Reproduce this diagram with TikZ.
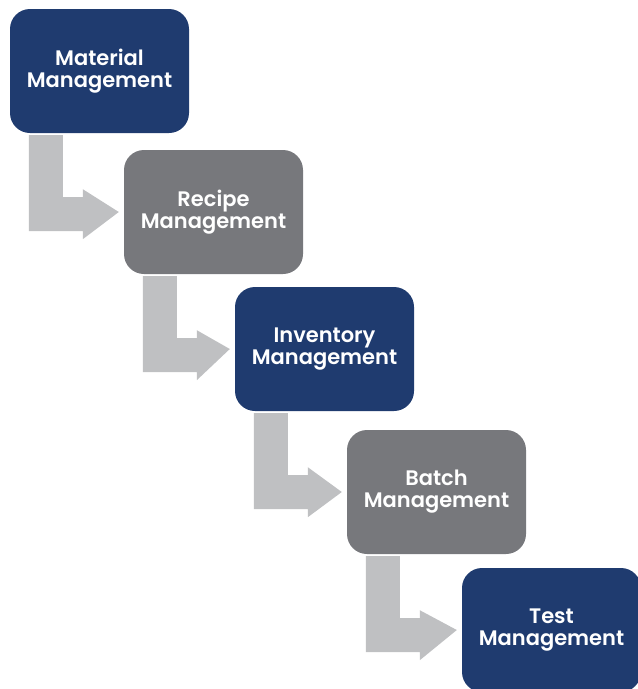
\documentclass[tikz,border=0pt]{standalone}
\usepackage{fontspec}
\setmainfont{Poppins}[BoldFont=* SemiBold]
\usetikzlibrary{calc}
\definecolor{navy}{HTML}{1F3B6F}
\definecolor{slate}{HTML}{77787C}
\definecolor{arrowgrey}{HTML}{BFC0C2}
\tikzset{
  box/.style={rectangle, rounded corners=20pt, minimum width=179pt, minimum height=124pt,
    inner sep=0pt, text=white, align=center, font=\bfseries\fontsize{21}{22}\selectfont},
  bluebox/.style={box, fill=navy},
  greybox/.style={box, fill=slate},
  bent/.style={fill=arrowgrey}
}
\newcommand{\bentarrow}[2]{%
  \fill[bent] ($(#1.south west)+(19,2)$) -- ($(#1.south west)+(53,2)$)
    -- ($(#1.south west)+(53,64)$) -- ($(#1.south west)+(73,64)$)
    -- ($(#1.south west)+(73,56)$) -- ($(#2.west)+(-5,0)$)
    -- ($(#1.south west)+(73,106)$) -- ($(#1.south west)+(73,98)$)
    -- ($(#1.south west)+(19,98)$) -- cycle;}
\begin{document}
\begin{tikzpicture}[x=1pt,y=-1pt]
\useasboundingbox (0,0) rectangle (638,689);
\node[bluebox] (b1) at (99.5,71) {Material\\Management};
\node[greybox] (b2) at (213.5,212) {Recipe\\Management};
\node[bluebox] (b3) at (324.5,349) {Inventory\\Management};
\node[greybox] (b4) at (436.5,492) {Batch\\Management};
\node[bluebox] (b5) at (551.5,630) {Test\\Management};
\bentarrow{b1}{b2}
\bentarrow{b2}{b3}
\bentarrow{b3}{b4}
\bentarrow{b4}{b5}
\end{tikzpicture}
\end{document}
